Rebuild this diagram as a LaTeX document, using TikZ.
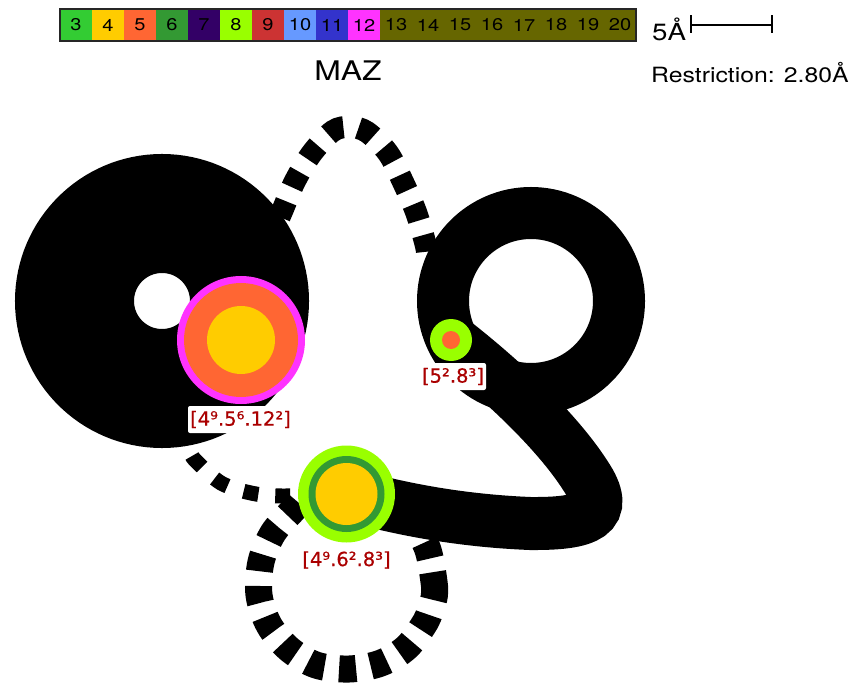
\documentclass[tikz,border=0pt]{standalone}
\usepackage{fontspec}
\setmainfont[FakeStretch=1.18]{TeX Gyre Heros}
\newfontfamily\lblfont[FakeBold=0.5]{DejaVu Sans}
\definecolor{c3}{HTML}{33CC33}\definecolor{c4}{HTML}{FFCC00}\definecolor{c5}{HTML}{FF6633}
\definecolor{c6}{HTML}{339933}\definecolor{c7}{HTML}{330066}\definecolor{c8}{HTML}{99FF00}
\definecolor{c9}{HTML}{CC3333}\definecolor{c10}{HTML}{6699FF}\definecolor{c11}{HTML}{3333CC}
\definecolor{c12}{HTML}{FF33FF}\definecolor{c13}{HTML}{666600}\definecolor{lblred}{HTML}{AA0000}
\tikzset{
  x=1pt,y=-1pt,
  band/.style={draw=black,line width=#1,line cap=butt},
  ring/.style={circle,inner sep=0pt,minimum size=#1},
  cell/.style={minimum width=32pt,minimum height=32pt,inner sep=0pt,font=\fontsize{17}{17}\selectfont},
  lbl/.style={text=lblred,inner sep=0pt,font=\fontsize{19.5}{19.5}\lblfont\selectfont},
  lblbox/.style={lbl,fill=white,rounded corners=2pt},
  dashA/.style={draw=black,line width=22pt,dash pattern=on 17pt off 15.2pt},
  dashB/.style={draw=black,line width=27pt,dash pattern=on 17pt off 14.8pt},
  dashC/.style={draw=black,line width=15pt,dash pattern=on 15pt off 17pt},
}
\begin{document}
\begin{tikzpicture}
\useasboundingbox (0,0) rectangle (858,684);
\coordinate (ca) at (241,340);
\coordinate (cb) at (451,340);
\coordinate (cc) at (346.5,494);
\coordinate (la) at (162,301);
\coordinate (lb) at (531,301);
% loops
\draw[band=119pt] (la) circle[radius=87.5];
\draw[band=52pt] (lb) circle[radius=88];
% thick connector
\draw[band=53pt] (cb) .. controls (500,378) and (556,430) .. (585,475)
  .. controls (612,515) and (587,524) .. (530,523.5)
  .. controls (470,521) and (410,512) .. (cc);
% dashed connectors
\draw[dashA] plot[smooth,tension=0.55] coordinates {(279.6,217) (283,209) (295,181) (312,153) (333,131) (350,127) (367,132) (388,153) (403,182) (416,212) (425,242) (427,252)};
\draw[dashC] plot[smooth,tension=0.55] coordinates {(192,456) (197,462) (221,483) (251,493) (282,496) (cc)};
\draw[dashB] plot[smooth,tension=0.55] coordinates {(299,503) (293,510) (273,533) (261,562) (259,595) (269,625) (289,649) (316,665) (349,669) (381,663) (407,647) (426,621) (431,606)};
\draw[draw=black,line width=27pt,dash pattern=on 28pt off 14pt on 17pt off 20pt] plot[smooth,tension=0.55] coordinates {(433.5,600) (434.5,586) (428,550) (415,525)};
% nodes
\node[ring=128pt,fill=c12] (nA) at (ca) {};
\node[ring=114pt,fill=c5] (nA2) at (ca) {};
\node[ring=68pt,fill=c4] (nA3) at (ca) {};
\node[ring=42pt,fill=c8] (nB) at (cb) {};
\node[ring=18pt,fill=c5] (nB2) at (cb) {};
\node[ring=97pt,fill=c8] (nC) at (cc) {};
\node[ring=76pt,fill=c6] (nC2) at (cc) {};
\node[ring=62pt,fill=c4] (nC3) at (cc) {};
% labels
\node[lblbox,minimum width=105pt,minimum height=27pt] (lA) at (240.5,419.5) {[4⁹.5⁶.12²]};
\node[lblbox,minimum width=66pt,minimum height=27pt] (lB) at (453,376.5) {[5².8³]};
\node[lbl] (lC) at (346.5,560) {[4⁹.6².8³]};
% colour bar
\foreach \n/\c/\x in {3/c3/76,4/c4/108,5/c5/140,6/c6/172,7/c7/204,8/c8/236,9/c9/268,10/c10/300,11/c11/332,12/c12/364,13/c13/396,14/c13/428,15/c13/460,16/c13/492,17/c13/524,18/c13/556,19/c13/588,20/c13/620}
  \node[cell,fill=\c] (k\n) at (\x,25) {\raisebox{-1pt}{\n}};
\draw[line width=2pt,draw=black!85] (59.5,9) rectangle (635.5,41);
\node[inner sep=0pt,font=\fontsize{27}{27}\selectfont] (title) at (348,71) {MAZ};
\node[inner sep=0pt,font=\fontsize{23.5}{23.5}\selectfont,anchor=west] (five) at (652,29) {5Å};
\node[inner sep=0pt,font=\fontsize{21}{21}\selectfont,anchor=west] (restr) at (651,73) {Restriction: 2.80Å};
\coordinate (sl) at (691,25);
\coordinate (sr) at (772,25);
\draw[line width=1.2pt] (sl) -- (sr);
\draw[line width=1.2pt] (691,15.5) -- (691,33.5);
\draw[line width=1.2pt] (772,15.5) -- (772,33.5);
\end{tikzpicture}
\end{document}
